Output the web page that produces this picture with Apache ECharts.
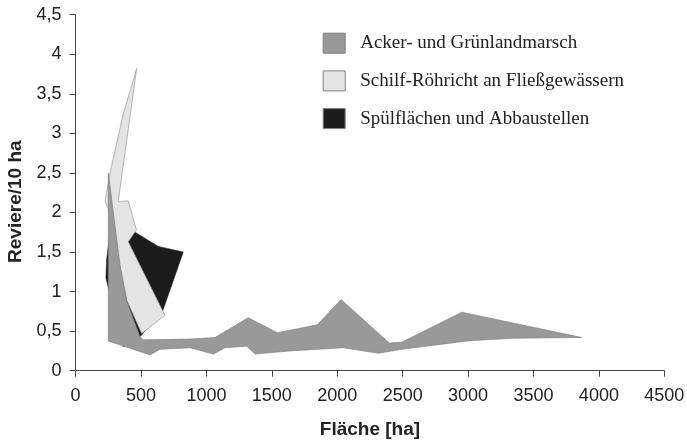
<!DOCTYPE html>
<html>
<head>
<meta charset="utf-8">
<script src="https://cdn.jsdelivr.net/npm/echarts@6/dist/echarts.min.js"></script>
<style>
  html, body { margin: 0; padding: 0; background: #fff; }
  #chart { width: 687px; height: 440px; }
</style>
</head>
<body>
<div id="chart"></div>
<script>
// polygon outlines [Fläche ha, Reviere/10 ha]
const ackerPoints = [
    [250, 2.50], [343, 1.30], [389, 0.89], [492, 0.43], [518, 0.39],
    [875, 0.40], [1066, 0.42], [1320, 0.67], [1542, 0.48], [1848, 0.58],
    [2029, 0.90], [2398, 0.35], [2493, 0.36], [2952, 0.74], [3869, 0.42],
    [3346, 0.41], [3015, 0.38], [2493, 0.27], [2314, 0.22], [2047, 0.29],
    [1639, 0.25], [1372, 0.21], [1308, 0.31], [1142, 0.29], [1053, 0.21],
    [875, 0.29], [645, 0.27], [569, 0.20], [250, 0.375]
];
const schilfPoints = [
    [467, 3.82], [326, 2.14], [403, 2.145], [465, 1.78], [403, 1.63],
    [683, 0.70], [505, 0.47], [391, 0.89], [250, 2.05], [225, 2.14],
    [263, 2.50], [365, 3.25]
];
const spuelPoints = [
    [332, 1.855], [470, 1.735], [632, 1.57], [823, 1.50], [662, 0.74],
    [492, 0.43], [365, 0.30], [232, 1.17], [237, 1.40], [263, 1.75]
];
const seriesNames = [
    "Acker- und Grünlandmarsch",
    "Schilf-Röhricht an Fließgewässern",
    "Spülflächen und Abbaustellen"
];

const chart = echarts.init(document.getElementById("chart"));

function polygonSeries(name, points, fill, stroke, z) {
    return {
        name: name,
        type: "custom",
        z: z,
        itemStyle: { color: fill, borderColor: stroke, borderWidth: 1 },
        data: points,
        renderItem: function (params, api) {
            if (params.dataIndex !== 0) return null;
            return {
                type: "polygon",
                shape: { points: points.map(p => api.coord(p)) },
                style: { fill: fill, stroke: stroke, lineWidth: 0.6 }
            };
        }
    };
}

const nameFont = { fontFamily: "Liberation Sans", fontWeight: "bold", fontSize: 19, color: "#222" };

const option = {
    animation: false,
    grid: { left: 75.6, right: 22.7, top: 14.7, bottom: 69.3, containLabel: false, outerBoundsMode: "none" },
    legend: {
        orient: "vertical",
        left: 322.7,
        top: 32.7,
        padding: 0,
        itemWidth: 22,
        itemHeight: 20,
        itemGap: 16.7,
        icon: "rect",
        data: seriesNames,
        itemStyle: { borderColor: "#808080", borderWidth: 1 },
        textStyle: { fontFamily: "Liberation Serif", fontSize: 19, color: "#222", padding: [0, 0, 0, 10] }
    },
    xAxis: {
        type: "value",
        min: 0,
        max: 4500,
        interval: 500,
        name: "Fläche [ha]",
        nameLocation: "middle",
        nameGap: 50,
        nameTextStyle: nameFont,
        axisLine: { lineStyle: { color: "#444", width: 1 } },
        axisTick: { show: true, length: 6, lineStyle: { color: "#444" } },
        axisLabel: { fontFamily: "Liberation Sans", fontSize: 18, color: "#222", margin: 16, formatter: v => String(v) },
        splitLine: { show: false }
    },
    yAxis: {
        type: "value",
        min: 0,
        max: 4.5,
        interval: 0.5,
        name: "Reviere/10 ha",
        nameLocation: "middle",
        nameGap: 49,
        nameTextStyle: Object.assign({ padding: [0, 18, 0, 0] }, nameFont),
        axisLine: { show: true, lineStyle: { color: "#444", width: 1 } },
        axisTick: { show: true, length: 6, lineStyle: { color: "#444" } },
        axisLabel: {
            fontFamily: "Liberation Sans", fontSize: 18, color: "#222", margin: 14,
            formatter: v => String(v).replace(".", ",")
        },
        splitLine: { show: false }
    },
    series: [
        polygonSeries(seriesNames[0], ackerPoints, "#999999", "#7a7a7a", 4),
        polygonSeries(seriesNames[1], schilfPoints, "#e4e4e4", "#8a8a8a", 3),
        polygonSeries(seriesNames[2], spuelPoints, "#1c1c1c", "#1c1c1c", 2)
    ]
};

chart.setOption(option);
</script>
</body>
</html>
